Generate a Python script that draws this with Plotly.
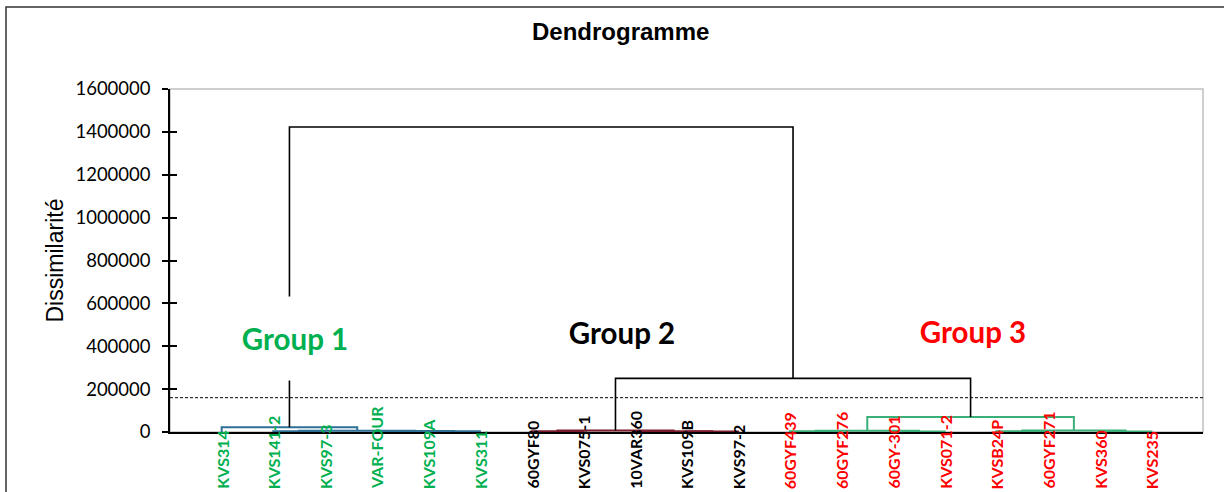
import plotly.graph_objects as go

# ---------------- data ----------------
labels = ["KVS314", "KVS141-2", "KVS97-3", "VAR-FOUR", "KVS109A", "KVS311",
          "60GYF80", "KVS075-1", "10VAR360", "KVS109B", "KVS97-2",
          "60GYF439", "60GYF276", "60GY-301", "KVS071-2", "KVSB24P",
          "60GYF271", "KVS360", "KVS235"]
groups = [1, 1, 1, 1, 1, 1, 2, 2, 2, 2, 2, 3, 3, 3, 3, 3, 3, 3, 3]

# linkage (nodes 0..18 are leaves, new nodes numbered from 19)
merge_left = [1, 4, 3, 19, 0, 6, 9, 8, 24, 11, 13, 28, 15, 17, 31, 30, 27, 23]
merge_right = [2, 5, 20, 21, 22, 7, 10, 25, 26, 12, 14, 29, 16, 18, 32, 33, 34, 35]
merge_height = [4000, 3000, 5000, 6000, 22000,
                3000, 2000, 4000, 7000,
                3000, 2000, 6000, 3000, 2000, 7000, 70000,
                250000, 1423000]
merge_group = [1, 1, 1, 1, 1, 2, 2, 2, 2, 3, 3, 3, 3, 3, 3, 3, 0, 0]

group_names = ["Group 1", "Group 2", "Group 3"]
group_x = [2.42, 8.76, 15.54]
group_y = [434000, 466000, 471000]

threshold = 160000
y_ticks = [0, 200000, 400000, 600000, 800000, 1000000, 1200000, 1400000, 1600000]

label_colors = {1: "#00B050", 2: "#000000", 3: "#FF0000"}
link_colors = {0: "#000000", 1: "#2E6F96", 2: "#7B1A2C", 3: "#3BAF78"}

# ---------------- dendrogram geometry ----------------
node_x = [i + 1 for i in range(len(labels))]
node_h = [0.0] * len(labels)
segs = {k: ([], []) for k in link_colors}
for l, r, h, g in zip(merge_left, merge_right, merge_height, merge_group):
    xs, ys = segs[g]
    xs += [node_x[l], node_x[l], node_x[r], node_x[r], None]
    ys += [node_h[l], h, h, node_h[r], None]
    node_x.append((node_x[l] + node_x[r]) / 2)
    node_h.append(h)

fig = go.Figure()
for g in [1, 2, 3, 0]:
    xs, ys = segs[g]
    fig.add_trace(go.Scatter(x=xs, y=ys, mode="lines",
                             line=dict(color=link_colors[g], width=2 if g else 1.6),
                             hoverinfo="skip", showlegend=False))
# invisible trace for the secondary (inside-tick) axis
fig.add_trace(go.Scatter(x=[None], y=[None], yaxis="y2", showlegend=False,
                         hoverinfo="skip"))

W, H = 1224, 492
ml, mr, mt, mb = 170, 21, 89, 60
pw, ph = W - ml - mr, H - mt - mb

def px_x(p):
    return (p - ml) / pw

def px_y(p):
    return (H - mb - p) / ph

annotations = []
# leaf labels
for i, (lab, g) in enumerate(zip(labels, groups)):
    annotations.append(dict(x=i + 1, xref="x", y=px_y(491), yref="paper",
                            text="<b>%s</b>" % lab, textangle=-90,
                            showarrow=False, xanchor="center", yanchor="bottom",
                            font=dict(family="Lato", size=16, color=label_colors[g])))
# group labels
for name, gx, gy, g in zip(group_names, group_x, group_y, [1, 2, 3]):
    annotations.append(dict(x=gx, y=gy, xref="x", yref="y", text="<b>%s</b>" % name,
                            showarrow=False, bgcolor="white", height=81, width=134,
                            font=dict(family="Lato", size=29.5, color=label_colors[g])))
# title
annotations.append(dict(x=px_x(620), y=px_y(32), xref="paper", yref="paper",
                        text="<b>Dendrogramme</b>", showarrow=False,
                        xanchor="center", yanchor="middle",
                        font=dict(family="Liberation Sans", size=24, color="black")))
# y title
annotations.append(dict(x=px_x(54), y=0.5, xref="paper", yref="paper",
                        text="Dissimilarité", textangle=-90, showarrow=False,
                        xanchor="center", yanchor="middle",
                        font=dict(family="Liberation Sans", size=23, color="black")))

shapes = [
    dict(type="rect", xref="paper", yref="paper", x0=0, x1=1, y0=0, y1=1,
         line=dict(color="#BFBFBF", width=1.5), layer="below"),
    dict(type="rect", xref="paper", yref="paper", x0=px_x(6), x1=px_x(1232),
         y0=px_y(505), y1=px_y(7), line=dict(color="#333333", width=1.5), layer="below"),
    dict(type="line", xref="paper", yref="y", x0=0, x1=1, y0=threshold, y1=threshold,
         line=dict(color="black", width=1, dash="3px,2px")),
]

fig.update_layout(
    width=W, height=H,
    margin=dict(l=ml, r=mr, t=mt, b=mb, pad=0),
    paper_bgcolor="white", plot_bgcolor="white",
    showlegend=False,
    xaxis=dict(range=[0, 20], showticklabels=False, showgrid=False, zeroline=False,
               showline=True, linecolor="black", linewidth=2, ticks=""),
    yaxis=dict(range=[0, 1600000], tickvals=y_ticks,
               ticktext=[str(v) for v in y_ticks],
               ticks="outside", ticklen=6, tickwidth=1.5, tickcolor="black",
               showline=True, linecolor="black", linewidth=1.5,
               showgrid=False, zeroline=False, ticklabelstandoff=8,
               tickfont=dict(family="Lato", size=18.5, color="black")),
    yaxis2=dict(range=[0, 1600000], overlaying="y", side="left", tickvals=y_ticks,
                ticks="inside", ticklen=7, tickwidth=1.5, tickcolor="black",
                showticklabels=False, showline=False, showgrid=False, zeroline=False),
    annotations=annotations,
    shapes=shapes,
)

fig.write_html("out.html",
               config={"displayModeBar": False},
               post_script="document.body.style.margin='0px';"
                           "document.body.style.overflow='hidden';")
